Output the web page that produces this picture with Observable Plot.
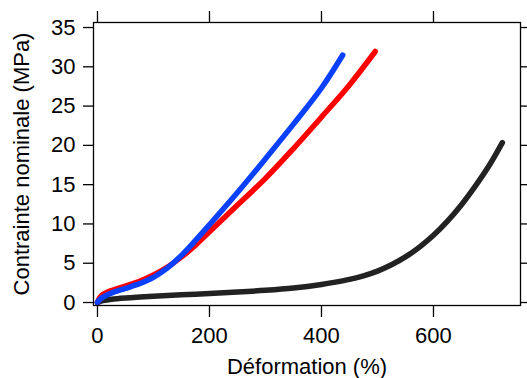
<!DOCTYPE html>
<html><head><meta charset="utf-8">
<script src="https://cdn.jsdelivr.net/npm/d3@7"></script>
<script src="https://cdn.jsdelivr.net/npm/@observablehq/plot@0.6"></script>
<style>body{margin:0;background:#fff;}</style>
</head><body><div id="chart"></div>
<script>
const blackX = [0, 5, 10, 25, 50, 100, 150, 200, 250, 300, 350, 400, 425, 450, 475, 500, 525, 550, 575, 600, 625, 650, 675, 700, 723];
const blackY = [0, 0.15, 0.25, 0.42, 0.58, 0.8, 0.98, 1.15, 1.33, 1.55, 1.85, 2.3, 2.6, 2.95, 3.4, 4.0, 4.8, 5.8, 7.05, 8.55, 10.35, 12.45, 14.85, 17.5, 20.35];
const redX = [0, 3, 6, 10, 20, 30, 50, 75, 100, 125, 150, 175, 200, 250, 300, 350, 400, 450, 496];
const redY = [0, 0.5, 0.8, 1.05, 1.4, 1.65, 2.1, 2.7, 3.5, 4.5, 5.8, 7.3, 9.0, 12.4, 15.8, 19.6, 23.6, 27.7, 31.95];
const blueX = [0, 3, 6, 10, 20, 30, 50, 75, 100, 125, 150, 175, 200, 250, 300, 350, 400, 438];
const blueY = [0, 0.3, 0.5, 0.7, 1.05, 1.35, 1.8, 2.4, 3.2, 4.4, 6.0, 7.9, 9.9, 14.0, 18.3, 22.7, 27.3, 31.5];
const xTicks = [0, 200, 400, 600];
const yTicks = [0, 5, 10, 15, 20, 25, 30, 35];
const xTitle = "Déformation (%)";
const yTitle = "Contrainte nominale (MPa)";

const toRows = (xs, ys) => xs.map((x, i) => ({x, y: ys[i]}));
const black = toRows(blackX, blackY), red = toRows(redX, redY), blue = toRows(blueX, blueY);

const plot = Plot.plot({
  width: 527, height: 378,
  marginLeft: 93, marginRight: 7, marginTop: 22, marginBottom: 73,
  style: {fontFamily: "'Liberation Sans', Arial, sans-serif", fontSize: "22px", background: "#fff", color: "#000", overflow: "visible"},
  x: {domain: [-7.1, 755.4]},
  y: {domain: [-0.38, 35.64]},
  marks: [
    Plot.line(black, {x: "x", y: "y", stroke: "#222", strokeWidth: 5.5, curve: "catmull-rom"}),
    Plot.line(red, {x: "x", y: "y", stroke: "#ff0000", strokeWidth: 5.5, curve: "catmull-rom"}),
    Plot.line(blue, {x: "x", y: "y", stroke: "#0a40ff", strokeWidth: 5.5, curve: "catmull-rom"}),
    Plot.frame({stroke: "#000", strokeWidth: 1.3}),
    Plot.axisX(xTicks, {anchor: "bottom", tickSize: 12, tickPadding: 10, stroke: "#000", strokeWidth: 1.3, label: xTitle, labelAnchor: "center", labelOffset: 68, labelArrow: false}),
    Plot.axisX(xTicks, {anchor: "top", tickSize: 12, stroke: "#000", strokeWidth: 1.3, tickFormat: () => "", label: null}),
    Plot.axisY(yTicks, {anchor: "left", tickSize: 10, tickPadding: 8, stroke: "#000", strokeWidth: 1.3, label: yTitle, labelAnchor: "center", labelOffset: 80, labelArrow: false}),
    Plot.axisY(yTicks, {anchor: "right", tickSize: 7, stroke: "#000", strokeWidth: 1.3, tickFormat: () => "", label: null})
  ]
});
document.getElementById("chart").appendChild(plot);
</script>
</body></html>
